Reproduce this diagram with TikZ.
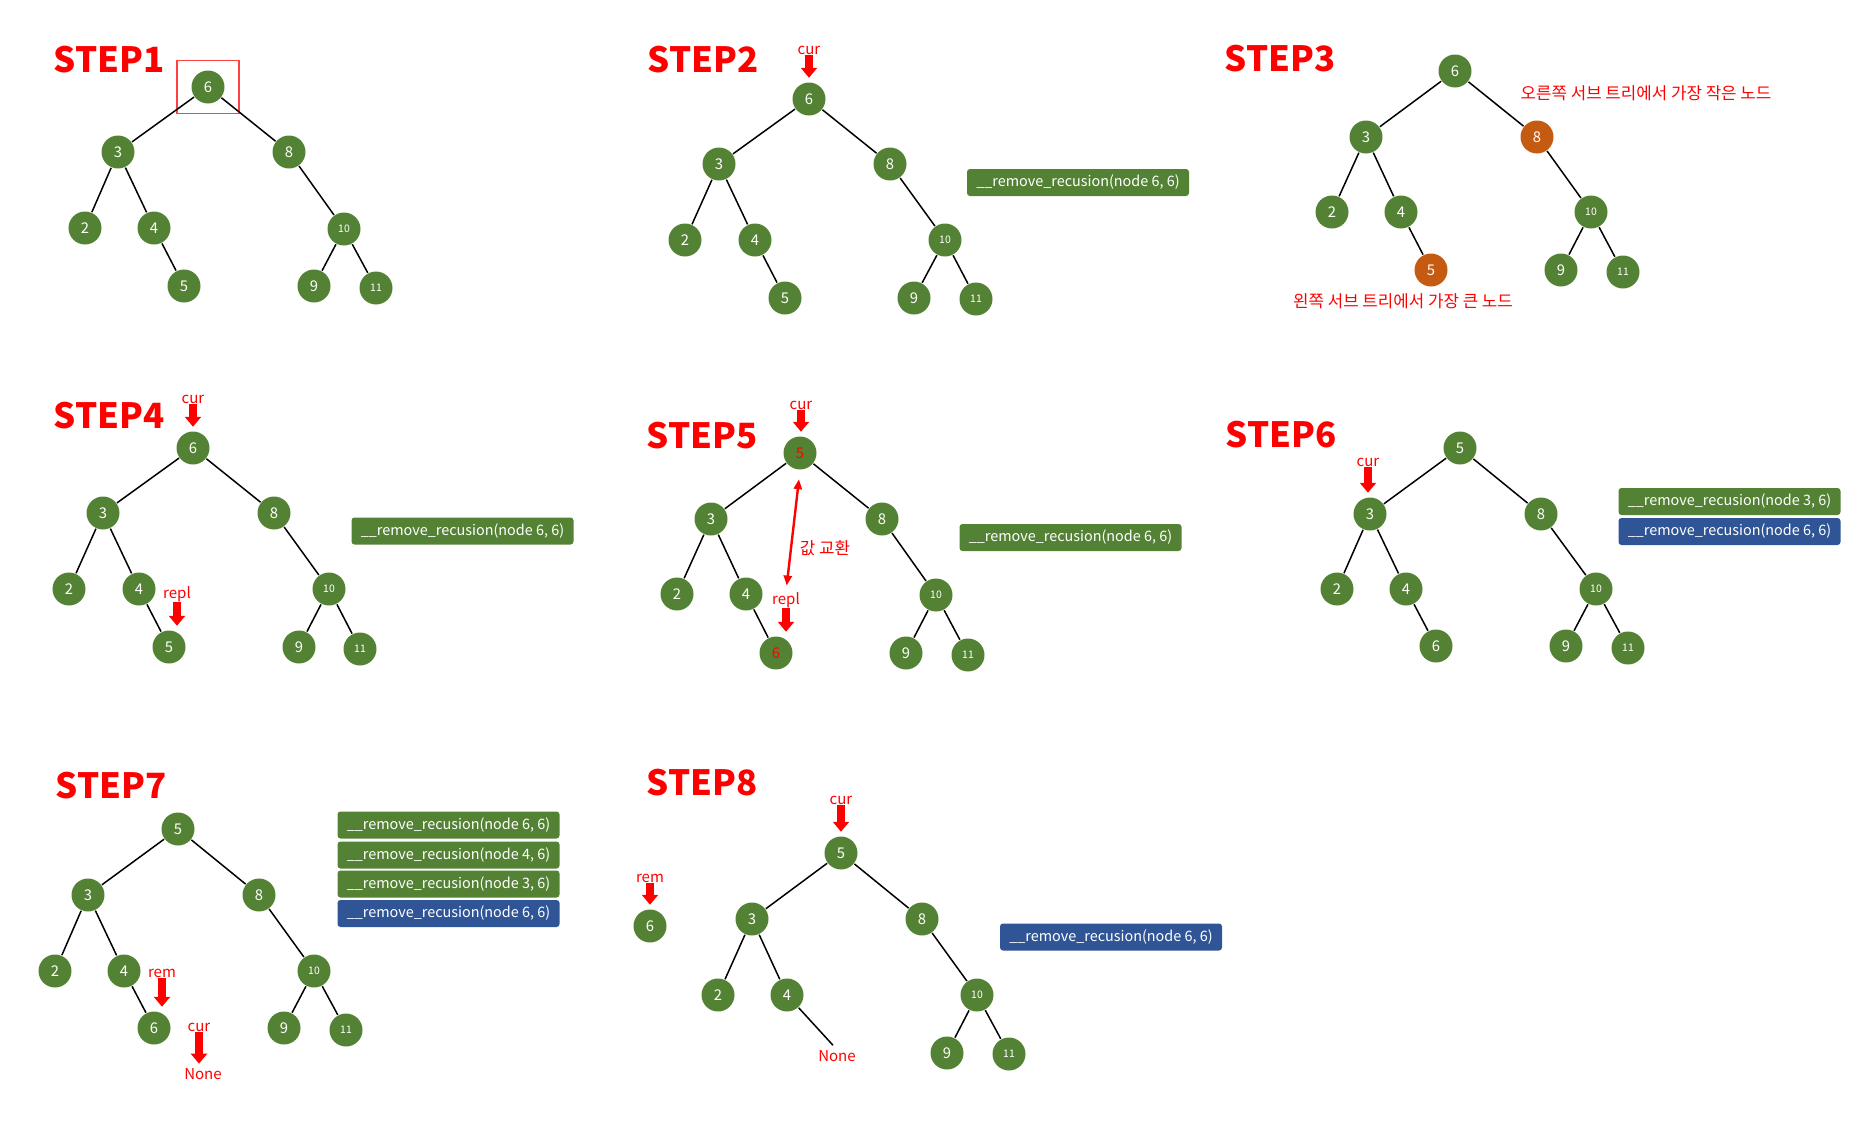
\documentclass[tikz,border=0pt]{standalone}
\usepackage{fontspec}
\setmainfont{Noto Sans CJK KR}
\usetikzlibrary{arrows.meta}
\definecolor{nodegreen}{HTML}{548235}
\definecolor{nodeorange}{HTML}{C55A11}
\definecolor{callblue}{HTML}{2F5597}
\begin{document}
\begin{tikzpicture}[x=0.5pt,y=-0.5pt,line width=0.75pt,
    vtx/.style={circle,fill=nodegreen,text=white,inner sep=0pt,minimum size=16.5pt,font=\fontsize{7.4}{8}\selectfont},
    vsmall/.style={vtx,font=\fontsize{5.2}{6}\selectfont},
    hot/.style={vtx,fill=nodeorange},
    steplbl/.style={anchor=base west,inner sep=0pt,text=red,font=\fontsize{17.4}{20}\selectfont\bfseries},
    ptr/.style={inner sep=0pt,text=red,font=\fontsize{7.5}{9}\selectfont},
    note/.style={inner sep=0pt,text=red,font=\fontsize{8.4}{9}\selectfont},
    fatarr/.style={red,line width=4pt,-{Triangle[width=8pt,length=5pt]},shorten >=2pt},
    swaparr/.style={red,line width=1.2pt,{Triangle[width=4pt,length=5pt]}-{Triangle[width=4pt,length=5pt]}},
    callbox/.style={fill=nodegreen,text=white,rounded corners=1.5pt,minimum width=111pt,minimum height=13.5pt,inner sep=0pt,font=\fontsize{7.2}{8}\selectfont},
    callboxb/.style={callbox,fill=callblue}]
  \useasboundingbox (0,0) rectangle (1876,1125);

  % STEP1
  \node[steplbl] (t1) at (53,72) {STEP1};
  \draw
    (208,87) node[vtx] (a6){6}
    (118,152) node[vtx] (a3){3}
    (289,152) node[vtx] (a8){8}
    (85,228) node[vtx] (a2){2}
    (154,228) node[vtx] (a4){4}
    (344,229) node[vsmall] (a10){10}
    (184,286) node[vtx] (a5){5}
    (314,286) node[vtx] (a9){9}
    (376,288) node[vsmall] (a11){11};
  \node[draw=red!75,line width=0.6pt,minimum width=31pt,minimum height=26.5pt] (abox) at (a6) {};
  \begin{scope}[-]
    \draw (a6) to (a3); \draw (a6) to (a8);
    \draw (a3) to (a2); \draw (a3) to (a4); \draw (a4) to (a5);
    \draw (a8) to (a10); \draw (a10) to (a9); \draw (a10) to (a11);
  \end{scope}

  % STEP2
  \node[steplbl] (t2) at (647,72) {STEP2};
  \draw
    (809,99) node[vtx] (b6){6}
    (719,164) node[vtx] (b3){3}
    (890,164) node[vtx] (b8){8}
    (685,240) node[vtx] (b2){2}
    (755,240) node[vtx] (b4){4}
    (945,240) node[vsmall] (b10){10}
    (785,298) node[vtx] (b5){5}
    (914,298) node[vtx] (b9){9}
    (976,299) node[vsmall] (b11){11};
  \begin{scope}[-]
    \draw (b6) to (b3); \draw (b6) to (b8);
    \draw (b3) to (b2); \draw (b3) to (b4); \draw (b4) to (b5);
    \draw (b8) to (b10); \draw (b10) to (b9); \draw (b10) to (b11);
  \end{scope}
  \node[ptr] (bcur) at (809,50) {cur};
  \draw[fatarr] (bcur.south) -- (bcur.south |- b6.north);
  \node[callbox] (bcall) at (1078,182.5) {\_\_remove\_recusion(node 6, 6)};

  % STEP3
  \node[steplbl] (t3) at (1224,71) {STEP3};
  \draw
    (1455,71) node[vtx] (c6){6}
    (1366,137) node[vtx] (c3){3}
    (1537,137) node[hot] (c8){8}
    (1332,212) node[vtx] (c2){2}
    (1401,212) node[vtx] (c4){4}
    (1591,212) node[vsmall] (c10){10}
    (1431,270) node[hot] (c5){5}
    (1561,270) node[vtx] (c9){9}
    (1623,272) node[vsmall] (c11){11};
  \begin{scope}[-]
    \draw (c6) to (c3); \draw (c6) to (c8);
    \draw (c3) to (c2); \draw (c3) to (c4); \draw (c4) to (c5);
    \draw (c8) to (c10); \draw (c10) to (c9); \draw (c10) to (c11);
  \end{scope}
  \node[note] (cmin) at (1646,93) {오른쪽 서브 트리에서 가장 작은 노드};
  \node[note] (cmax) at (1403,301) {왼쪽 서브 트리에서 가장 큰 노드};

  % STEP4
  \node[steplbl] (t4) at (53,428) {STEP4};
  \draw
    (193,448) node[vtx] (d6){6}
    (103,513) node[vtx] (d3){3}
    (274,513) node[vtx] (d8){8}
    (69,589) node[vtx] (d2){2}
    (139,589) node[vtx] (d4){4}
    (329,589) node[vsmall] (d10){10}
    (169,647) node[vtx] (d5){5}
    (299,647) node[vtx] (d9){9}
    (360,649) node[vsmall] (d11){11};
  \begin{scope}[-]
    \draw (d6) to (d3); \draw (d6) to (d8);
    \draw (d3) to (d2); \draw (d3) to (d4); \draw (d4) to (d5);
    \draw (d8) to (d10); \draw (d10) to (d9); \draw (d10) to (d11);
  \end{scope}
  \node[ptr] (dcur) at (193,399) {cur};
  \node[ptr] (drepl) at (177,594) {repl};
  \draw[fatarr] (dcur.south) -- (dcur.south |- d6.north);
  \draw[fatarr] (drepl.south) -- (drepl.south |- d5.north);
  \node[callbox] (dcall) at (462.5,531) {\_\_remove\_recusion(node 6, 6)};

  % STEP5
  \node[steplbl] (t5) at (646,448) {STEP5};
  \draw
    (800,453) node[vtx,text=red] (e5){5}
    (711,519) node[vtx] (e3){3}
    (882,519) node[vtx] (e8){8}
    (677,594) node[vtx] (e2){2}
    (746,594) node[vtx] (e4){4}
    (936,595) node[vsmall] (e10){10}
    (776,653) node[vtx,text=red] (e6){6}
    (906,653) node[vtx] (e9){9}
    (968,655) node[vsmall] (e11){11};
  \begin{scope}[-]
    \draw (e5) to (e3); \draw (e5) to (e8);
    \draw (e3) to (e2); \draw (e3) to (e4); \draw (e4) to (e6);
    \draw (e8) to (e10); \draw (e10) to (e9); \draw (e10) to (e11);
  \end{scope}
  \node[ptr] (ecur) at (801,405) {cur};
  \node[ptr] (erepl) at (786,600) {repl};
  \draw[fatarr] (ecur.south) -- (ecur.south |- e5.north);
  \draw[fatarr] (erepl.south) -- (erepl.south |- e6.north);
  \draw[swaparr,shorten <=4.5pt,shorten >=3pt] (e5.south) -- (erepl.north);
  \node[note] (eswap) at (825,548) {값 교환};
  \node[callbox] (ecall) at (1070.5,537.5) {\_\_remove\_recusion(node 6, 6)};

  % STEP6
  \node[steplbl] (t6) at (1225,447) {STEP6};
  \draw
    (1460,448) node[vtx] (f5){5}
    (1370,514) node[vtx] (f3){3}
    (1541,514) node[vtx] (f8){8}
    (1337,589) node[vtx] (f2){2}
    (1406,589) node[vtx] (f4){4}
    (1596,589) node[vsmall] (f10){10}
    (1436,646) node[vtx] (f6){6}
    (1566,646) node[vtx] (f9){9}
    (1628,648) node[vsmall] (f11){11};
  \begin{scope}[-]
    \draw (f5) to (f3); \draw (f5) to (f8);
    \draw (f3) to (f2); \draw (f3) to (f4); \draw (f4) to (f6);
    \draw (f8) to (f10); \draw (f10) to (f9); \draw (f10) to (f11);
  \end{scope}
  \node[ptr] (fcur) at (1368,462) {cur};
  \draw[fatarr] (fcur.south) -- (fcur.south |- f3.north);
  \node[callbox] (fcall1) at (1729.5,501.5) {\_\_remove\_recusion(node 3, 6)};
  \node[callboxb] (fcall2) at (1729.5,531.5) {\_\_remove\_recusion(node 6, 6)};

  % STEP7
  \node[steplbl] (t7) at (55,798) {STEP7};
  \draw
    (178,829) node[vtx] (g5){5}
    (88,895) node[vtx] (g3){3}
    (259,895) node[vtx] (g8){8}
    (55,971) node[vtx] (g2){2}
    (124,971) node[vtx] (g4){4}
    (314,971) node[vsmall] (g10){10}
    (154,1028) node[vtx] (g6){6}
    (284,1028) node[vtx] (g9){9}
    (346,1030) node[vsmall] (g11){11};
  \begin{scope}[-]
    \draw (g5) to (g3); \draw (g5) to (g8);
    \draw (g3) to (g2); \draw (g3) to (g4); \draw (g4) to (g6);
    \draw (g8) to (g10); \draw (g10) to (g9); \draw (g10) to (g11);
  \end{scope}
  \node[ptr] (grem) at (162,973) {rem};
  \node[ptr] (gcur) at (199,1027) {cur};
  \node[ptr] (gnone) at (203,1074) {None};
  \draw[fatarr] (grem.south) -- (grem.south |- g6.north);
  \draw[fatarr] (gcur.south) -- (gcur.south |- gnone.north);
  \node[callbox] (gcall1) at (448.5,825) {\_\_remove\_recusion(node 6, 6)};
  \node[callbox] (gcall2) at (448.5,855) {\_\_remove\_recusion(node 4, 6)};
  \node[callbox] (gcall3) at (448.5,884) {\_\_remove\_recusion(node 3, 6)};
  \node[callboxb] (gcall4) at (448.5,913.5) {\_\_remove\_recusion(node 6, 6)};

  % STEP8
  \node[steplbl] (t8) at (646,795) {STEP8};
  \draw
    (841,853) node[vtx] (h5){5}
    (752,919) node[vtx] (h3){3}
    (922,919) node[vtx] (h8){8}
    (718,995) node[vtx] (h2){2}
    (787,995) node[vtx] (h4){4}
    (977,995) node[vsmall] (h10){10}
    (947,1053) node[vtx] (h9){9}
    (1009,1054) node[vsmall] (h11){11}
    (650,926) node[vtx] (h6){6};
  \node[ptr] (hnone) at (837,1056) {None};
  \begin{scope}[-]
    \draw (h5) to (h3); \draw (h5) to (h8);
    \draw (h3) to (h2); \draw (h3) to (h4); \draw[shorten >=3pt] (h4) to (hnone.north);
    \draw (h8) to (h10); \draw (h10) to (h9); \draw (h10) to (h11);
  \end{scope}
  \node[ptr] (hcur) at (841,800) {cur};
  \node[ptr] (hrem) at (650,878) {rem};
  \draw[fatarr] (hcur.south) -- (hcur.south |- h5.north);
  \draw[fatarr] (hrem.south) -- (hrem.south |- h6.north);
  \node[callboxb] (hcall) at (1111,937) {\_\_remove\_recusion(node 6, 6)};
\end{tikzpicture}
\end{document}
